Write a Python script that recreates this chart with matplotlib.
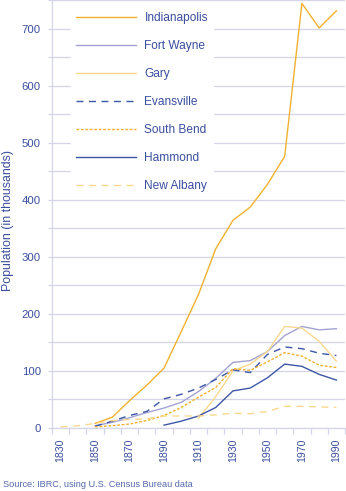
import matplotlib
matplotlib.use("Agg")
import matplotlib.pyplot as plt
from matplotlib.ticker import FixedLocator, NullFormatter, FixedFormatter

plt.rcParams['font.family'] = ['Liberation Sans', 'DejaVu Sans']

# ---- data (population in thousands) ----
years = [1830, 1840, 1850, 1860, 1870, 1880, 1890, 1900, 1910, 1920,
         1930, 1940, 1950, 1960, 1970, 1980, 1990]

indianapolis_years = years[2:]
indianapolis = [8, 19, 48, 75, 105, 169, 234, 314, 364, 387, 427, 476, 744, 701, 731]

fort_wayne_years = years[2:]
fort_wayne = [4, 10, 18, 27, 35, 45, 64, 87, 115, 118, 134, 162, 178, 172, 174]

gary_years = years[8:]
gary = [17, 55, 100, 112, 134, 178, 175, 152, 117]

evansville_years = years[2:]
evansville = [3, 12, 22, 29, 51, 59, 70, 85, 102, 97, 129, 142, 139, 131, 127]

south_bend_years = years[2:]
south_bend = [2, 4, 7, 13, 22, 36, 54, 71, 104, 101, 116, 132, 126, 110, 106]

hammond_years = years[6:]
hammond = [5, 12, 21, 36, 65, 70, 88, 112, 108, 94, 84]

new_albany_years = years
new_albany = [2, 4, 8, 13, 15, 16, 21, 21, 21, 23, 26, 25, 29, 38, 38, 37, 36]

x_labels = ['1830', '1850', '1870', '1890', '1910', '1930', '1950', '1970', '1990']

# ---- styling ----
TXT = '#3A4E9E'
GRID = '#D5D5EA'
ORANGE = '#F0B22E'
LAV = '#A3A3D3'
CREAM = '#F9D88E'
BLUE = '#3D56A6'

fig = plt.figure(figsize=(3.46, 4.91), dpi=100)
W, H = 346, 491
ax = fig.add_axes([52 / W, (H - 428) / H, (345 - 52) / W, 428 / H])

lw = 1.0
ax.plot(indianapolis_years, indianapolis, color=ORANGE, lw=lw, label='Indianapolis')
ax.plot(fort_wayne_years, fort_wayne, color=LAV, lw=lw, label='Fort Wayne')
ax.plot(gary_years, gary, color=CREAM, lw=lw, label='Gary')
ax.plot(evansville_years, evansville, color=BLUE, lw=lw, dashes=(5, 4), label='Evansville')
ax.plot(south_bend_years, south_bend, color=ORANGE, lw=lw, dashes=(2, 1.2), label='South Bend')
ax.plot(hammond_years, hammond, color=BLUE, lw=lw, label='Hammond')
ax.plot(new_albany_years, new_albany, color=CREAM, lw=lw, dashes=(5, 4), label='New Albany')

ax.set_xlim(1825, 1995)
ax.set_ylim(0, 750)

# y ticks: grid every 50, labels every 100
yt = list(range(0, 751, 50))
ax.yaxis.set_major_locator(FixedLocator(yt))
ax.yaxis.set_major_formatter(FixedFormatter([str(v) if v % 100 == 0 else '' for v in yt]))
ax.yaxis.grid(True, color=GRID, lw=0.9)
ax.set_axisbelow(True)
ax.tick_params(axis='y', direction='out', length=3, width=0.9, color=GRID,
               labelcolor=TXT, labelsize=8.2, pad=5)

# x ticks: marks between categories, labels on every other category
ax.xaxis.set_major_locator(FixedLocator(list(range(1825, 1996, 10))))
ax.xaxis.set_major_formatter(NullFormatter())
ax.xaxis.set_minor_locator(FixedLocator([int(s) for s in x_labels]))
ax.xaxis.set_minor_formatter(FixedFormatter(x_labels))
ax.tick_params(axis='x', which='major', direction='out', length=4, width=0.9, color=GRID)
ax.tick_params(axis='x', which='minor', length=0, labelcolor=TXT, labelsize=7.6,
               labelrotation=90, pad=7.5)

for s in ['top', 'right']:
    ax.spines[s].set_visible(False)
for s in ['left', 'bottom']:
    ax.spines[s].set_color(GRID)
    ax.spines[s].set_linewidth(0.9)

ax.set_ylabel('Population (in thousands)', color=TXT, fontsize=8.9)
ax.yaxis.set_label_coords(-38 / (345 - 52), 0.485)

leg = ax.legend(loc='upper left',
                bbox_to_anchor=((71 - 52) / (345 - 52), 1.0 - 7 / 428),
                frameon=True, fancybox=False, framealpha=1.0, edgecolor='white',
                facecolor='white', fontsize=8.6, handlelength=5.0, handletextpad=0.7,
                labelspacing=1.33, borderpad=0.45, borderaxespad=0.0)
for t in leg.get_texts():
    t.set_color(TXT)

fig.text(3 / W, 1 - 487 / H, 'Source: IBRC, using U.S. Census Bureau data',
         color='#5468AE', fontsize=6.6, ha='left', va='baseline')

fig.savefig('out.png', dpi=100)
